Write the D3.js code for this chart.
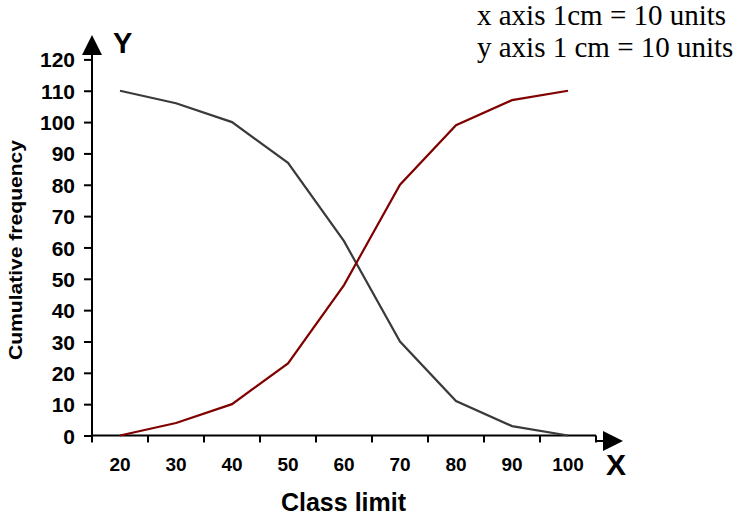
<!DOCTYPE html>
<html><head><meta charset="utf-8">
<script src="https://cdn.jsdelivr.net/npm/d3@7"></script>
<style>body{margin:0;background:#fff}svg{display:block}</style>
</head><body><svg id="c" width="739" height="515"></svg>
<script>
const classLimits = [20, 30, 40, 50, 60, 70, 80, 90, 100];
const lessThan = [0, 4, 10, 23, 48, 80, 99, 107, 110];
const moreThan = [110, 106, 100, 87, 62, 30, 11, 3, 0];
const yTicks = [0, 10, 20, 30, 40, 50, 60, 70, 80, 90, 100, 110, 120];

const FONT = "Arial, 'Liberation Sans', sans-serif";
const svg = d3.select("#c");
const x0 = 92, x1 = 596, yTop = 59.4, yBot = 435.5;
const x = d3.scaleBand().domain(classLimits).range([x0, x1]).padding(0);
const y = d3.scaleLinear().domain([0, 120]).range([yBot, yTop]);

// y axis
const gy = svg.append("g").attr("transform", `translate(${x0},0)`)
  .call(d3.axisLeft(y).tickValues(yTicks).tickSize(8).tickPadding(9).tickSizeOuter(0));
gy.select(".domain").remove();
gy.selectAll("line").attr("stroke", "#000").attr("stroke-width", 2);
gy.attr("font-size", null).attr("font-family", null);
gy.selectAll("text").attr("font-family", FONT).attr("dy", "0.36em")
  .attr("font-weight", "bold").style("font-size", "21px").attr("fill", "#000");
svg.append("line").attr("x1", x0).attr("x2", x0).attr("y1", yBot + 1).attr("y2", 50)
  .attr("stroke", "#000").attr("stroke-width", 2);
svg.append("path").attr("d", `M${x0 - 10},55 L${x0 + 10},55 L${x0},35 Z`).attr("fill", "#000");

// x axis
const boundaries = classLimits.map(d => x(d)).concat([x1]);
svg.append("line").attr("x1", x0 - 1).attr("x2", x1).attr("y1", yBot).attr("y2", yBot)
  .attr("stroke", "#000").attr("stroke-width", 2);
svg.append("g").selectAll("line").data(boundaries).join("line")
  .attr("x1", d => d).attr("x2", d => d).attr("y1", yBot).attr("y2", yBot + 7)
  .attr("stroke", "#000").attr("stroke-width", 2);
svg.append("g").selectAll("text").data(classLimits).join("text")
  .attr("x", d => x(d) + x.bandwidth() / 2).attr("y", 471)
  .attr("text-anchor", "middle")
  .attr("font-family", FONT)
  .attr("font-weight", "bold").style("font-size", "19px").text(d => d);
svg.append("line").attr("x1", x1).attr("x2", 606).attr("y1", 441).attr("y2", 441)
  .attr("stroke", "#000").attr("stroke-width", 2);
svg.append("path").attr("d", `M603,431 L603,451 L623,441 Z`).attr("fill", "#000");

// axis letters
svg.append("text").attr("x", 113).attr("y", 52.7).attr("font-family", FONT)
  .attr("font-weight", "bold").attr("font-size", 29).text("Y");
svg.append("text").attr("x", 606).attr("y", 474.5).attr("font-family", FONT)
  .attr("font-weight", "bold").attr("font-size", 30).text("X");

// titles
svg.append("text").attr("x", 343.5).attr("y", 510.5).attr("text-anchor", "middle")
  .attr("font-family", FONT)
  .attr("font-weight", "bold").attr("font-size", 25).text("Class limit");
svg.append("text").attr("transform", "translate(21.7,250) rotate(-90)").attr("text-anchor", "middle")
  .attr("font-family", FONT)
  .attr("textLength", 220).attr("lengthAdjust", "spacingAndGlyphs")
  .attr("font-weight", "bold").attr("font-size", 19).text("Cumulative frequency");

// scale note
const note = svg.append("g").attr("font-family", "'Times New Roman', 'Liberation Serif', serif")
  .attr("font-size", 29).attr("fill", "#000");
note.append("text").attr("x", 477).attr("y", 25).text("x axis 1cm = 10 units");
note.append("text").attr("x", 477).attr("y", 57).text("y axis 1 cm = 10 units");

// lines
const line = d3.line().x((d, i) => x(classLimits[i]) + x.bandwidth() / 2).y(d => y(d));
svg.append("path").datum(moreThan).attr("d", line).attr("fill", "none")
  .attr("stroke", "#3a3a3a").attr("stroke-width", 2.2);
svg.append("path").datum(lessThan).attr("d", line).attr("fill", "none")
  .attr("stroke", "#800000").attr("stroke-width", 2.2);
</script></body></html>
